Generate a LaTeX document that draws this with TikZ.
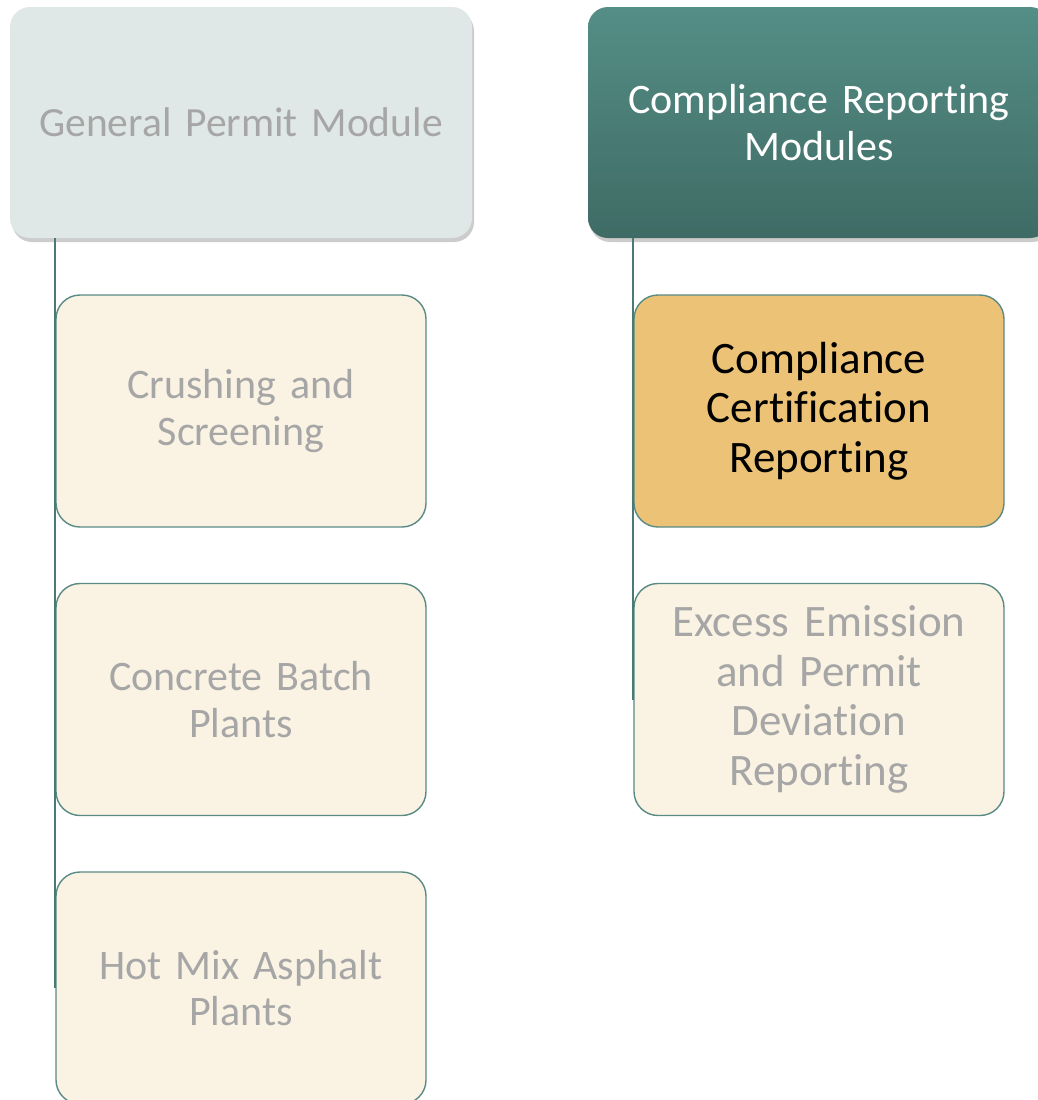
\documentclass[tikz,border=0pt]{standalone}
\usepackage{fontspec}
\setmainfont{Carlito}[Ligatures=NoCommon]
\usetikzlibrary{shadows}
\definecolor{hdrlight}{HTML}{DFE8E6}
\definecolor{hdrtop}{HTML}{548E86}
\definecolor{hdrbot}{HTML}{3F6B65}
\definecolor{childfill}{HTML}{FAF3E3}
\definecolor{childedge}{HTML}{5A8A84}
\definecolor{hilite}{HTML}{EBC276}
\definecolor{greytext}{HTML}{A6A6A6}
\definecolor{connline}{HTML}{4A7A74}
\tikzset{
  hdrbox/.style={rounded corners=20pt, minimum width=462pt, minimum height=231pt,
    inner sep=0pt, align=center, text width=450pt,
    font=\fontsize{42}{47}\selectfont,
    drop shadow={shadow xshift=2pt, shadow yshift=-4pt, opacity=0.2, fill=black}},
  childbox/.style={rounded corners=24pt, draw=childedge, line width=1.4pt, fill=childfill,
    minimum width=370pt, minimum height=232pt, inner sep=0pt, align=center, text width=360pt,
    text=greytext, font=\fontsize{42}{46.5}\selectfont},
  rchild/.style={childbox, font=\fontsize{45}{49.5}\selectfont},
  conn/.style={draw=connline, line width=2pt}
}
\begin{document}
\begin{tikzpicture}[x=1pt,y=-1pt]
\useasboundingbox (0,0) rectangle (1037,1100);
% headers
\node[hdrbox, fill=hdrlight, text=greytext, font=\fontsize{41.5}{47}\selectfont] (gpm) at (241,122.5) {General Permit Module};
\node[hdrbox, top color=hdrtop, bottom color=hdrbot, text=white] (crm) at (819,122.5) {Compliance Reporting\\Modules};
% children
\node[childbox] (c1) at (241,411) {Crushing and\\Screening};
\node[childbox] (c2) at (241,699.5) {Concrete Batch\\Plants};
\node[childbox] (c3) at (241,988) {Hot Mix Asphalt\\Plants};
\node[rchild, fill=hilite, text=black] (r1) at (819,411) {Compliance\\Certification\\Reporting};
\node[rchild] (r2) at (819,699.5) {Excess Emission\\and Permit\\Deviation\\Reporting};
% connectors
\draw[conn] (gpm.south -| c3.west) -- (c3.west);
\draw[conn] (gpm.south -| c2.west) -- (c2.west);
\draw[conn] (gpm.south -| c1.west) -- (c1.west);
\draw[conn] (crm.south -| r2.west) -- (r2.west);
\draw[conn] (crm.south -| r1.west) -- (r1.west);
\end{tikzpicture}
\end{document}
